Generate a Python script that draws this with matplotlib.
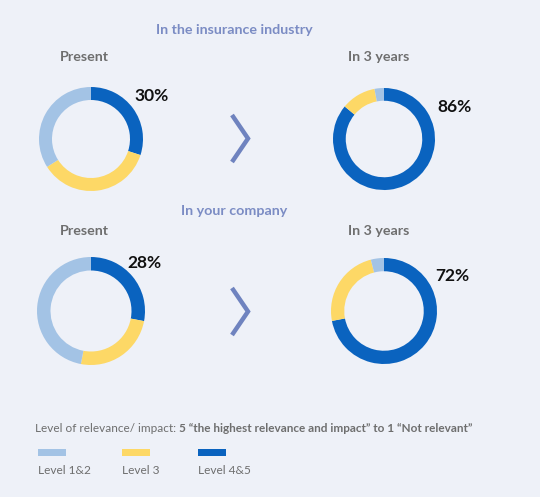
import matplotlib.pyplot as plt
from matplotlib.patches import Rectangle

# === Data ===
levels = ["Level 1&2", "Level 3", "Level 4&5"]
colors = ["#A3C3E5", "#FDD866", "#0A63BF"]

# shares drawn clockwise from 12 o'clock: Level 4&5, Level 3, Level 1&2
industry_present = [30, 36, 34]
industry_3years = [86, 11, 3]
company_present = [28, 25, 47]
company_3years = [72, 24, 4]

section_titles = ["In the insurance industry", "In your company"]
period_labels = ["Present", "In 3 years"]

bg = "#EEF1F8"
head_col = "#7B8CC4"
gray_col = "#6E6E6E"

W, H = 540, 497
fig = plt.figure(figsize=(W / 100, H / 100), dpi=100, facecolor=bg)
ax = fig.add_axes([0, 0, 1, 1])
ax.set_facecolor(bg)

plt.rcParams['font.family'] = ['Lato', 'DejaVu Sans']


def Y(y):
    return H - y


def donut(vals, cx, cy, r):
    order = [vals[0], vals[1], vals[2]]
    cols = [colors[2], colors[1], colors[0]]
    ax.pie(order, colors=cols, startangle=90, counterclock=False,
           center=(cx, Y(cy)), radius=r, frame=True,
           wedgeprops=dict(width=r * 0.25, edgecolor='none'))


rows = [
    dict(title_y=30, label_y=57, cy=139, r=52,
         vals=(industry_present, industry_3years),
         pct_pos=((152, 96), (454, 107)), chev_y=(115, 162)),
    dict(title_y=211, label_y=231, cy=311, r=54,
         vals=(company_present, company_3years),
         pct_pos=((144, 263), (452, 276)), chev_y=(288, 335)),
]

for i, row in enumerate(rows):
    ax.text(234, Y(row["title_y"]), section_titles[i], ha='center', va='center',
            fontsize=10.3, fontweight='bold', color=head_col)
    ax.text(84, Y(row["label_y"]), period_labels[0], ha='center', va='center',
            fontsize=10.3, fontweight='bold', color=gray_col)
    ax.text(379, Y(row["label_y"]), period_labels[1], ha='center', va='center',
            fontsize=10.3, fontweight='bold', color=gray_col)
    donut(row["vals"][0], 91, row["cy"], row["r"])
    donut(row["vals"][1], 384, row["cy"], 51 if i == 0 else 53)
    for v, (px, py) in zip(row["vals"], row["pct_pos"]):
        ax.text(px, Y(py), f"{v[0]}%", ha='center', va='center',
                fontsize=12.5, fontweight='bold', color="#111111")
    # chevron arrow
    y0, y1 = row["chev_y"]
    ax.plot([232, 248, 232], [Y(y0), Y((y0 + y1) / 2), Y(y1)],
            color="#6F83BF", lw=3.2, solid_capstyle='butt', solid_joinstyle='miter')

ax.set_xlim(0, W)
ax.set_ylim(0, H)
ax.set_aspect('equal')
ax.axis('off')

# legend note with mixed weights
t1 = ax.text(35, Y(428), "Level of relevance/ impact: ", ha='left', va='center',
             fontsize=8.5, color=gray_col)
fig.canvas.draw()
bb = t1.get_window_extent()
x_next = ax.transData.inverted().transform((bb.x1, bb.y0))[0]
ax.text(x_next, Y(428), "5 \u201cthe highest relevance and impact\u201d to 1 \u201cNot relevant\u201d",
        ha='left', va='center', fontsize=8.5, fontweight='bold', color=gray_col)

leg_x = [38, 122, 198]
for lx, lab, c in zip(leg_x, levels, colors):
    ax.add_patch(Rectangle((lx, Y(456)), 28, 7, color=c, lw=0))
    ax.text(lx, Y(471), lab, ha='left', va='center', fontsize=8.6, color=gray_col)

fig.savefig("out.png", dpi=100, facecolor=bg)
